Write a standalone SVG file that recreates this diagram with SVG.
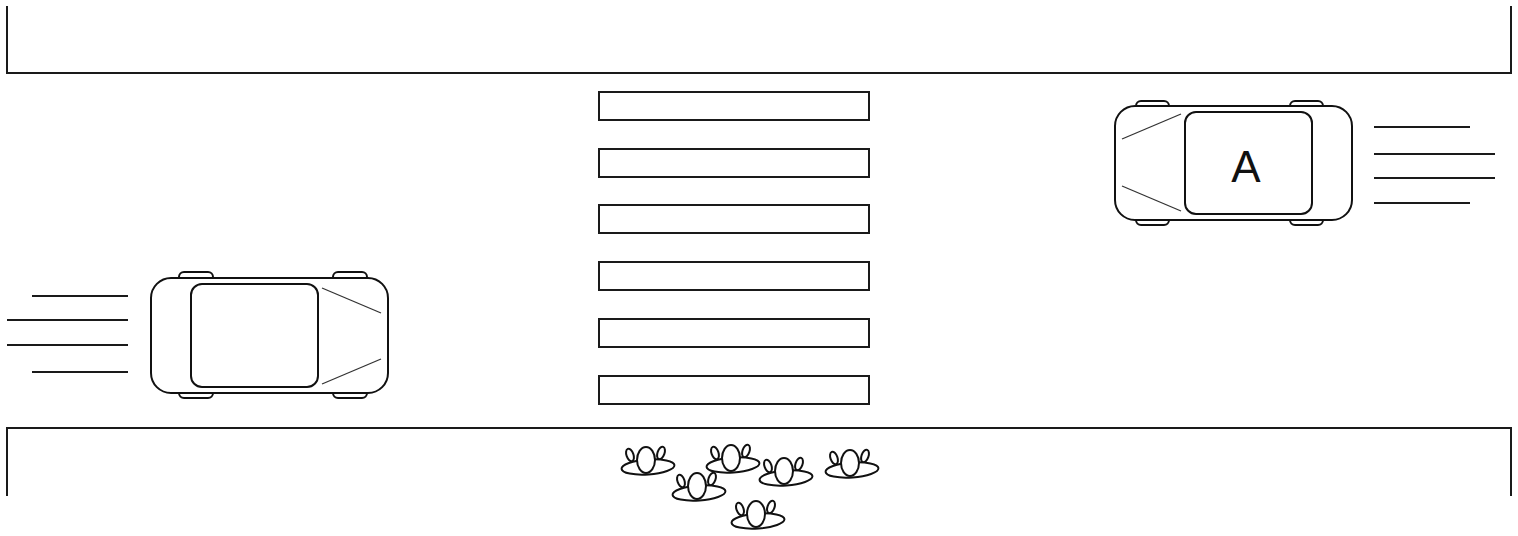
<svg xmlns="http://www.w3.org/2000/svg" width="1518" height="536" viewBox="0 0 1518 536">
  <style>
    .edge { fill: none; stroke: #1a1a1a; stroke-width: 2; }
    .stripe { fill: #fff; stroke: #1a1a1a; stroke-width: 2; }
    .body { fill: #fff; stroke: #111; stroke-width: 2; }
    .glass { fill: none; stroke: #333; stroke-width: 1.3; }
    .speed { stroke: #1a1a1a; stroke-width: 2; }
    .ped { fill: #fff; stroke: #111; stroke-width: 2; }
    .label { font-family: "Liberation Sans", Arial, sans-serif; font-size: 44px; fill: #111; }
  </style>
  <defs>
    <!-- one pedestrian seen from above, centred on the head -->
    <g id="person">
      <ellipse class="ped" cx="-16" cy="-5" rx="3.5" ry="6.5" transform="rotate(-20 -16 -5)"/>
      <ellipse class="ped" cx="15" cy="-7" rx="3.5" ry="6.5" transform="rotate(20 15 -7)"/>
      <ellipse class="ped" cx="2" cy="7" rx="26.5" ry="7.5" transform="rotate(-4 2 7)"/>
      <ellipse class="ped" cx="0" cy="0" rx="9" ry="13"/>
    </g>
  </defs>

  <rect width="1518" height="536" fill="#fff"/>

  <!-- road edges -->
  <g id="road">
    <polyline class="edge" points="7,6 7,73 1511,73 1511,6"/>
    <polyline class="edge" points="7,496 7,428 1511,428 1511,496"/>
  </g>

  <!-- zebra crossing -->
  <g id="crossing">
    <rect class="stripe" x="599" y="92" width="270" height="28"/>
    <rect class="stripe" x="599" y="149" width="270" height="28"/>
    <rect class="stripe" x="599" y="205" width="270" height="28"/>
    <rect class="stripe" x="599" y="262" width="270" height="28"/>
    <rect class="stripe" x="599" y="319" width="270" height="28"/>
    <rect class="stripe" x="599" y="376" width="270" height="28"/>
  </g>

  <!-- car A, heading left -->
  <g id="carA">
    <rect class="body" x="1136" y="101" width="33" height="10" rx="5"/>
    <rect class="body" x="1290" y="101" width="33" height="10" rx="5"/>
    <rect class="body" x="1136" y="215" width="33" height="10" rx="5"/>
    <rect class="body" x="1290" y="215" width="33" height="10" rx="5"/>
    <rect class="body" x="1115" y="106" width="237" height="114" rx="20"/>
    <rect class="body" x="1185" y="112" width="127" height="102" rx="11"/>
    <line class="glass" x1="1122" y1="139" x2="1181" y2="114"/>
    <line class="glass" x1="1122" y1="186" x2="1181" y2="211"/>
    <text class="label" x="1246" y="182" text-anchor="middle">A</text>
  </g>

  <!-- car B, heading right -->
  <g id="carB">
    <rect class="body" x="179" y="272" width="34" height="10" rx="5"/>
    <rect class="body" x="333" y="272" width="34" height="10" rx="5"/>
    <rect class="body" x="179" y="388" width="34" height="10" rx="5"/>
    <rect class="body" x="333" y="388" width="34" height="10" rx="5"/>
    <rect class="body" x="151" y="278" width="237" height="115" rx="20"/>
    <rect class="body" x="191" y="284" width="127" height="103" rx="11"/>
    <line class="glass" x1="322" y1="288" x2="381" y2="313"/>
    <line class="glass" x1="322" y1="384" x2="381" y2="359"/>
  </g>

  <!-- motion lines -->
  <g id="motion">
    <line class="speed" x1="1374" y1="127" x2="1470" y2="127"/>
    <line class="speed" x1="1374" y1="154" x2="1495" y2="154"/>
    <line class="speed" x1="1374" y1="178" x2="1495" y2="178"/>
    <line class="speed" x1="1374" y1="203" x2="1470" y2="203"/>
    <line class="speed" x1="32" y1="296" x2="128" y2="296"/>
    <line class="speed" x1="7" y1="320" x2="128" y2="320"/>
    <line class="speed" x1="7" y1="345" x2="128" y2="345"/>
    <line class="speed" x1="32" y1="372" x2="128" y2="372"/>
  </g>

  <!-- pedestrians waiting on the pavement -->
  <g id="pedestrians">
    <use href="#person" x="646" y="460"/>
    <use href="#person" x="731" y="458"/>
    <use href="#person" x="784" y="471"/>
    <use href="#person" x="850" y="463"/>
    <use href="#person" x="697" y="486"/>
    <use href="#person" x="756" y="514"/>
  </g>
</svg>
